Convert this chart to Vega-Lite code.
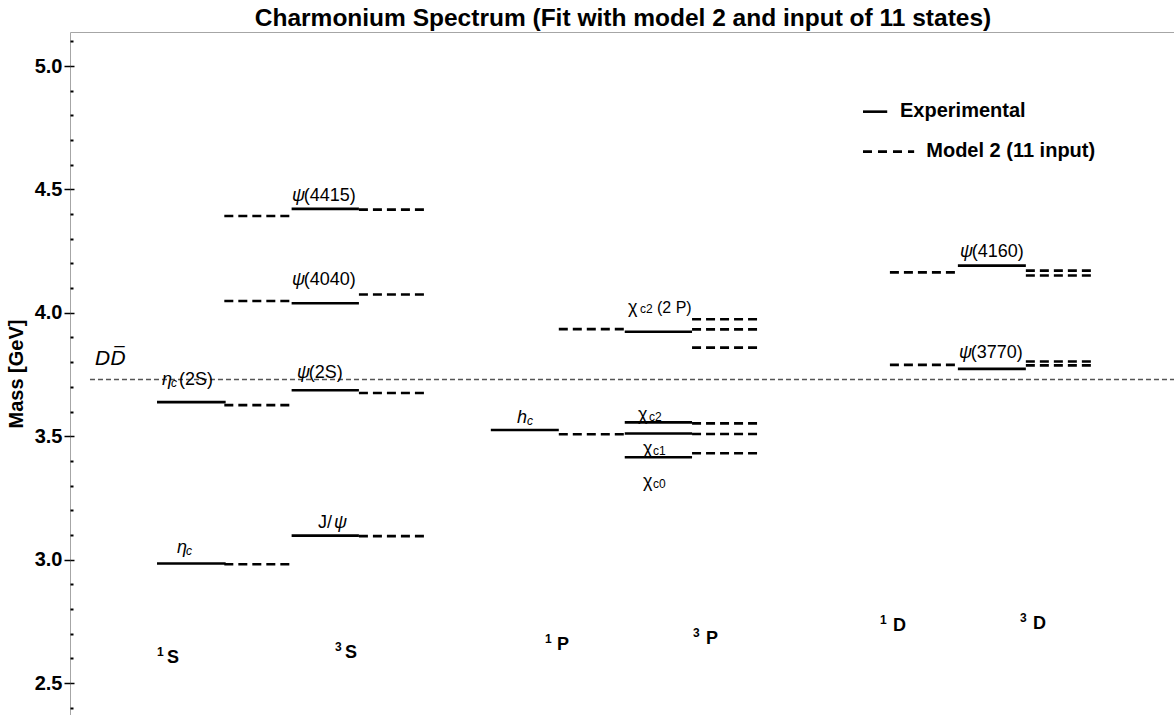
{
  "$schema": "https://vega.github.io/schema/vega-lite/v6.json",
  "width": 1106,
  "height": 683,
  "autosize": "none",
  "padding": {"left": 70, "top": 32, "right": 0, "bottom": 0},
  "background": "white",
  "config": {
    "view": {"stroke": "#a6a6a6", "strokeWidth": 1},
    "font": "Liberation Sans",
    "text": {"font": "Liberation Sans", "color": "black", "baseline": "alphabetic", "align": "left"}
  },
  "title": {
    "text": "Charmonium Spectrum (Fit with model 2 and input of 11 states)",
    "font": "Liberation Sans",
    "fontSize": 24.5,
    "fontWeight": "bold",
    "color": "black",
    "anchor": "middle",
    "baseline": "alphabetic",
    "offset": 5,
    "dy": 23
  },
  "datasets": {
    "levels": [
      {"state": "ηc(1S)", "mult": "1S", "kind": "exp", "mass": 2.984, "x0": 0.0, "x1": 1.02},
      {"state": "ηc(2S)", "mult": "1S", "kind": "exp", "mass": 3.638, "x0": 0.0, "x1": 1.02},
      {"state": "J/ψ", "mult": "3S", "kind": "exp", "mass": 3.097, "x0": 2.0, "x1": 3.0},
      {"state": "ψ(2S)", "mult": "3S", "kind": "exp", "mass": 3.686, "x0": 2.0, "x1": 3.0},
      {"state": "ψ(4040)", "mult": "3S", "kind": "exp", "mass": 4.039, "x0": 2.0, "x1": 3.0},
      {"state": "ψ(4415)", "mult": "3S", "kind": "exp", "mass": 4.421, "x0": 2.0, "x1": 3.0},
      {"state": "hc", "mult": "1P", "kind": "exp", "mass": 3.525, "x0": 4.96, "x1": 5.97},
      {"state": "χc0", "mult": "3P", "kind": "exp", "mass": 3.415, "x0": 6.95, "x1": 7.95},
      {"state": "χc1", "mult": "3P", "kind": "exp", "mass": 3.511, "x0": 6.95, "x1": 7.95},
      {"state": "χc2", "mult": "3P", "kind": "exp", "mass": 3.556, "x0": 6.95, "x1": 7.95},
      {"state": "χc2(2P)", "mult": "3P", "kind": "exp", "mass": 3.923, "x0": 6.95, "x1": 7.95},
      {"state": "ψ(3770)", "mult": "3D", "kind": "exp", "mass": 3.773, "x0": 11.9, "x1": 12.91},
      {"state": "ψ(4160)", "mult": "3D", "kind": "exp", "mass": 4.191, "x0": 11.9, "x1": 12.91},
      {"state": "1S-1", "mult": "1S", "kind": "model", "mass": 2.981, "x0": 1.0, "x1": 2.0},
      {"state": "1S-2", "mult": "1S", "kind": "model", "mass": 3.626, "x0": 1.0, "x1": 2.0},
      {"state": "1S-3", "mult": "1S", "kind": "model", "mass": 4.048, "x0": 1.0, "x1": 2.0},
      {"state": "1S-4", "mult": "1S", "kind": "model", "mass": 4.392, "x0": 1.0, "x1": 2.0},
      {"state": "3S-1", "mult": "3S", "kind": "model", "mass": 3.095, "x0": 3.0, "x1": 4.0},
      {"state": "3S-2", "mult": "3S", "kind": "model", "mass": 3.675, "x0": 3.0, "x1": 4.0},
      {"state": "3S-3", "mult": "3S", "kind": "model", "mass": 4.074, "x0": 3.0, "x1": 4.0},
      {"state": "3S-4", "mult": "3S", "kind": "model", "mass": 4.418, "x0": 3.0, "x1": 4.0},
      {"state": "1P-1", "mult": "1P", "kind": "model", "mass": 3.508, "x0": 5.97, "x1": 6.95},
      {"state": "1P-2", "mult": "1P", "kind": "model", "mass": 3.934, "x0": 5.97, "x1": 6.95},
      {"state": "3P0-1", "mult": "3P", "kind": "model", "mass": 3.431, "x0": 7.95, "x1": 8.96},
      {"state": "3P1-1", "mult": "3P", "kind": "model", "mass": 3.509, "x0": 7.95, "x1": 8.96},
      {"state": "3P2-1", "mult": "3P", "kind": "model", "mass": 3.552, "x0": 7.95, "x1": 8.96},
      {"state": "3P0-2", "mult": "3P", "kind": "model", "mass": 3.859, "x0": 7.95, "x1": 8.96},
      {"state": "3P1-2", "mult": "3P", "kind": "model", "mass": 3.933, "x0": 7.95, "x1": 8.96},
      {"state": "3P2-2", "mult": "3P", "kind": "model", "mass": 3.974, "x0": 7.95, "x1": 8.96},
      {"state": "1D-1", "mult": "1D", "kind": "model", "mass": 3.789, "x0": 10.89, "x1": 11.9},
      {"state": "1D-2", "mult": "1D", "kind": "model", "mass": 4.164, "x0": 10.89, "x1": 11.9},
      {"state": "3D-1a", "mult": "3D", "kind": "model", "mass": 3.787, "x0": 12.91, "x1": 13.91},
      {"state": "3D-1b", "mult": "3D", "kind": "model", "mass": 3.803, "x0": 12.91, "x1": 13.91},
      {"state": "3D-2a", "mult": "3D", "kind": "model", "mass": 4.151, "x0": 12.91, "x1": 13.91},
      {"state": "3D-2b", "mult": "3D", "kind": "model", "mass": 4.171, "x0": 12.91, "x1": 13.91}
    ],
    "threshold": [
      {"name": "DD̅", "mass": 3.73, "x0": -0.996, "x1": 15.141}
    ],
    "legendRules": [
      {"kind": "exp", "x0": 10.49, "x1": 10.85, "y": 4.815},
      {"kind": "model", "x0": 10.49, "x1": 11.25, "y": 4.653}
    ],
    "legendText": [
      {"text": "Experimental", "x": 11.04, "y": 4.793},
      {"text": "Model 2 (11 input)", "x": 11.43, "y": 4.631}
    ],
    "labels": [
      {"text": "ψ", "x": 2.006, "y": 4.453, "role": "symIt"},
      {"text": "(4415)", "x": 2.179, "y": 4.453, "role": "suffix"},
      {"text": "ψ", "x": 2.006, "y": 4.113, "role": "symIt"},
      {"text": "(4040)", "x": 2.179, "y": 4.113, "role": "suffix"},
      {"text": "ψ", "x": 2.08, "y": 3.736, "role": "symIt"},
      {"text": "(2S)", "x": 2.254, "y": 3.736, "role": "suffix"},
      {"text": "η", "x": 0.074, "y": 3.707, "role": "symIt"},
      {"text": "c", "x": 0.208, "y": 3.7, "role": "subIt"},
      {"text": "(2S)", "x": 0.327, "y": 3.707, "role": "suffix"},
      {"text": "η", "x": 0.297, "y": 3.027, "role": "symIt"},
      {"text": "c", "x": 0.431, "y": 3.02, "role": "subIt"},
      {"text": "J/", "x": 2.392, "y": 3.128, "role": "sym"},
      {"text": "ψ", "x": 2.63, "y": 3.128, "role": "symIt"},
      {"text": "h", "x": 5.349, "y": 3.553, "role": "symIt"},
      {"text": "c", "x": 5.498, "y": 3.546, "role": "subIt"},
      {"text": "χ", "x": 6.999, "y": 4.001, "role": "sym"},
      {"text": "c2", "x": 7.177, "y": 3.998, "role": "sub"},
      {"text": "(2 P)", "x": 7.429, "y": 4.001, "role": "suffixSmall"},
      {"text": "χ", "x": 7.147, "y": 3.566, "role": "sym"},
      {"text": "c2", "x": 7.311, "y": 3.563, "role": "sub"},
      {"text": "χ", "x": 7.221, "y": 3.428, "role": "sym"},
      {"text": "c1", "x": 7.37, "y": 3.425, "role": "sub"},
      {"text": "χ", "x": 7.221, "y": 3.294, "role": "sym"},
      {"text": "c0", "x": 7.37, "y": 3.291, "role": "sub"},
      {"text": "ψ", "x": 11.932, "y": 4.226, "role": "symIt"},
      {"text": "(4160)", "x": 12.105, "y": 4.226, "role": "suffix"},
      {"text": "ψ", "x": 11.917, "y": 3.817, "role": "symIt"},
      {"text": "(3770)", "x": 12.09, "y": 3.817, "role": "suffix"},
      {"text": "DD̅", "x": -0.921, "y": 3.789, "role": "threshold"},
      {"text": "1", "x": 0.0, "y": 2.609, "role": "sup"},
      {"text": "S", "x": 0.149, "y": 2.581, "role": "multiplet"},
      {"text": "3", "x": 2.645, "y": 2.63, "role": "sup"},
      {"text": "S", "x": 2.793, "y": 2.601, "role": "multiplet"},
      {"text": "1", "x": 5.765, "y": 2.662, "role": "sup"},
      {"text": "P", "x": 5.944, "y": 2.634, "role": "multiplet"},
      {"text": "3", "x": 7.964, "y": 2.686, "role": "sup"},
      {"text": "P", "x": 8.158, "y": 2.658, "role": "multiplet"},
      {"text": "1", "x": 10.743, "y": 2.739, "role": "sup"},
      {"text": "D", "x": 10.936, "y": 2.711, "role": "multiplet"},
      {"text": "3", "x": 12.823, "y": 2.747, "role": "sup"},
      {"text": "D", "x": 13.016, "y": 2.719, "role": "multiplet"}
    ]
  },
  "resolve": {"axis": {"y": "independent"}},
  "layer": [
    {
      "data": {"name": "levels"},
      "transform": [{"filter": "datum.kind === 'exp'"}],
      "mark": {"type": "rule", "color": "black", "strokeWidth": 2.6},
      "encoding": {
        "x": {"field": "x0", "type": "quantitative", "scale": {"domain": [-1.293, 15.141], "nice": false, "zero": false}, "axis": null},
        "x2": {"field": "x1"},
        "y": {
          "field": "mass", "type": "quantitative",
          "scale": {"domain": [2.3704, 5.1378], "nice": false, "zero": false},
          "axis": {
            "orient": "left",
            "values": [2.5, 3, 3.5, 4, 4.5, 5], "format": ".1f",
            "labelFont": "Liberation Sans", "labelFontWeight": "bold", "labelFontSize": 20, "labelColor": "black",
            "labelPadding": 2, "tickSize": 6, "tickColor": "black", "tickWidth": 1.5,
            "domain": false, "grid": false,
            "title": "Mass [GeV]", "titleFont": "Liberation Sans", "titleFontWeight": "bold", "titleFontSize": 20,
            "titleColor": "black", "titlePadding": 8
          }
        }
      }
    },
    {
      "data": {"name": "levels"},
      "transform": [{"filter": "datum.kind === 'model'"}],
      "mark": {"type": "rule", "color": "black", "strokeWidth": 2.6, "strokeDash": [9, 5]},
      "encoding": {
        "x": {"field": "x0", "type": "quantitative", "scale": {"domain": [-1.293, 15.141], "nice": false, "zero": false}, "axis": null},
        "x2": {"field": "x1"},
        "y": {
          "field": "mass", "type": "quantitative",
          "scale": {"domain": [2.3704, 5.1378], "nice": false, "zero": false},
          "axis": {
            "orient": "left",
            "values": [2.4, 2.6, 2.7, 2.8, 2.9, 3.1, 3.2, 3.3, 3.4, 3.6, 3.7, 3.8, 3.9, 4.1, 4.2, 4.3, 4.4, 4.6, 4.7, 4.8, 4.9, 5.1],
            "labels": false, "tickSize": -3, "tickWidth": 2, "tickColor": "black",
            "domain": false, "grid": false, "title": null
          }
        }
      }
    },
    {
      "data": {"name": "threshold"},
      "mark": {"type": "rule", "color": "#555555", "strokeWidth": 1.6, "strokeDash": [5, 3]},
      "encoding": {
        "x": {"field": "x0", "type": "quantitative", "scale": {"domain": [-1.293, 15.141], "nice": false, "zero": false}, "axis": null},
        "x2": {"field": "x1"},
        "y": {
          "field": "mass", "type": "quantitative",
          "scale": {"domain": [2.3704, 5.1378], "nice": false, "zero": false},
          "axis": {
            "orient": "left",
            "values": [2.5, 3, 3.5, 4, 4.5, 5],
            "labels": false, "tickSize": -4, "tickWidth": 1.5, "tickColor": "black",
            "domain": false, "grid": false, "title": null
          }
        }
      }
    },
    {
      "data": {"name": "legendRules"},
      "transform": [{"filter": "datum.kind === 'exp'"}],
      "mark": {"type": "rule", "color": "black", "strokeWidth": 2.6},
      "encoding": {
        "x": {"field": "x0", "type": "quantitative", "scale": {"domain": [-1.293, 15.141], "nice": false, "zero": false}, "axis": null},
        "x2": {"field": "x1"},
        "y": {"field": "y", "type": "quantitative", "scale": {"domain": [2.3704, 5.1378], "nice": false, "zero": false}, "axis": null}
      }
    },
    {
      "data": {"name": "legendRules"},
      "transform": [{"filter": "datum.kind === 'model'"}],
      "mark": {"type": "rule", "color": "black", "strokeWidth": 2.6, "strokeDash": [9, 6]},
      "encoding": {
        "x": {"field": "x0", "type": "quantitative", "scale": {"domain": [-1.293, 15.141], "nice": false, "zero": false}, "axis": null},
        "x2": {"field": "x1"},
        "y": {"field": "y", "type": "quantitative", "scale": {"domain": [2.3704, 5.1378], "nice": false, "zero": false}, "axis": null}
      }
    },
    {
      "data": {"name": "legendText"},
      "mark": {"type": "text", "fontSize": 20, "fontWeight": "bold", "align": "left", "baseline": "alphabetic"},
      "encoding": {
        "x": {"field": "x", "type": "quantitative", "scale": {"domain": [-1.293, 15.141], "nice": false, "zero": false}, "axis": null},
        "y": {"field": "y", "type": "quantitative", "scale": {"domain": [2.3704, 5.1378], "nice": false, "zero": false}, "axis": null},
        "text": {"field": "text"}
      }
    },
    {
      "data": {"name": "labels"},
      "transform": [{"filter": "datum.role === 'symIt'"}],
      "mark": {"type": "text", "fontSize": 18, "fontStyle": "italic", "align": "left", "baseline": "alphabetic"},
      "encoding": {
        "x": {"field": "x", "type": "quantitative", "scale": {"domain": [-1.293, 15.141], "nice": false, "zero": false}, "axis": null},
        "y": {"field": "y", "type": "quantitative", "scale": {"domain": [2.3704, 5.1378], "nice": false, "zero": false}, "axis": null},
        "text": {"field": "text"}
      }
    },
    {
      "data": {"name": "labels"},
      "transform": [{"filter": "datum.role === 'sym' || datum.role === 'suffix'"}],
      "mark": {"type": "text", "fontSize": 18, "align": "left", "baseline": "alphabetic"},
      "encoding": {
        "x": {"field": "x", "type": "quantitative", "scale": {"domain": [-1.293, 15.141], "nice": false, "zero": false}, "axis": null},
        "y": {"field": "y", "type": "quantitative", "scale": {"domain": [2.3704, 5.1378], "nice": false, "zero": false}, "axis": null},
        "text": {"field": "text"}
      }
    },
    {
      "data": {"name": "labels"},
      "transform": [{"filter": "datum.role === 'suffixSmall'"}],
      "mark": {"type": "text", "fontSize": 16, "align": "left", "baseline": "alphabetic"},
      "encoding": {
        "x": {"field": "x", "type": "quantitative", "scale": {"domain": [-1.293, 15.141], "nice": false, "zero": false}, "axis": null},
        "y": {"field": "y", "type": "quantitative", "scale": {"domain": [2.3704, 5.1378], "nice": false, "zero": false}, "axis": null},
        "text": {"field": "text"}
      }
    },
    {
      "data": {"name": "labels"},
      "transform": [{"filter": "datum.role === 'sub'"}],
      "mark": {"type": "text", "fontSize": 12, "align": "left", "baseline": "alphabetic"},
      "encoding": {
        "x": {"field": "x", "type": "quantitative", "scale": {"domain": [-1.293, 15.141], "nice": false, "zero": false}, "axis": null},
        "y": {"field": "y", "type": "quantitative", "scale": {"domain": [2.3704, 5.1378], "nice": false, "zero": false}, "axis": null},
        "text": {"field": "text"}
      }
    },
    {
      "data": {"name": "labels"},
      "transform": [{"filter": "datum.role === 'subIt'"}],
      "mark": {"type": "text", "fontSize": 12, "fontStyle": "italic", "align": "left", "baseline": "alphabetic"},
      "encoding": {
        "x": {"field": "x", "type": "quantitative", "scale": {"domain": [-1.293, 15.141], "nice": false, "zero": false}, "axis": null},
        "y": {"field": "y", "type": "quantitative", "scale": {"domain": [2.3704, 5.1378], "nice": false, "zero": false}, "axis": null},
        "text": {"field": "text"}
      }
    },
    {
      "data": {"name": "labels"},
      "transform": [{"filter": "datum.role === 'threshold'"}],
      "mark": {"type": "text", "fontSize": 20, "fontStyle": "italic", "font": "DejaVu Sans", "align": "left", "baseline": "alphabetic"},
      "encoding": {
        "x": {"field": "x", "type": "quantitative", "scale": {"domain": [-1.293, 15.141], "nice": false, "zero": false}, "axis": null},
        "y": {"field": "y", "type": "quantitative", "scale": {"domain": [2.3704, 5.1378], "nice": false, "zero": false}, "axis": null},
        "text": {"field": "text"}
      }
    },
    {
      "data": {"name": "labels"},
      "transform": [{"filter": "datum.role === 'sup'"}],
      "mark": {"type": "text", "fontSize": 12, "fontWeight": "bold", "align": "left", "baseline": "alphabetic"},
      "encoding": {
        "x": {"field": "x", "type": "quantitative", "scale": {"domain": [-1.293, 15.141], "nice": false, "zero": false}, "axis": null},
        "y": {"field": "y", "type": "quantitative", "scale": {"domain": [2.3704, 5.1378], "nice": false, "zero": false}, "axis": null},
        "text": {"field": "text"}
      }
    },
    {
      "data": {"name": "labels"},
      "transform": [{"filter": "datum.role === 'multiplet'"}],
      "mark": {"type": "text", "fontSize": 18, "fontWeight": "bold", "align": "left", "baseline": "alphabetic"},
      "encoding": {
        "x": {"field": "x", "type": "quantitative", "scale": {"domain": [-1.293, 15.141], "nice": false, "zero": false}, "axis": null},
        "y": {"field": "y", "type": "quantitative", "scale": {"domain": [2.3704, 5.1378], "nice": false, "zero": false}, "axis": null},
        "text": {"field": "text"}
      }
    }
  ]
}
